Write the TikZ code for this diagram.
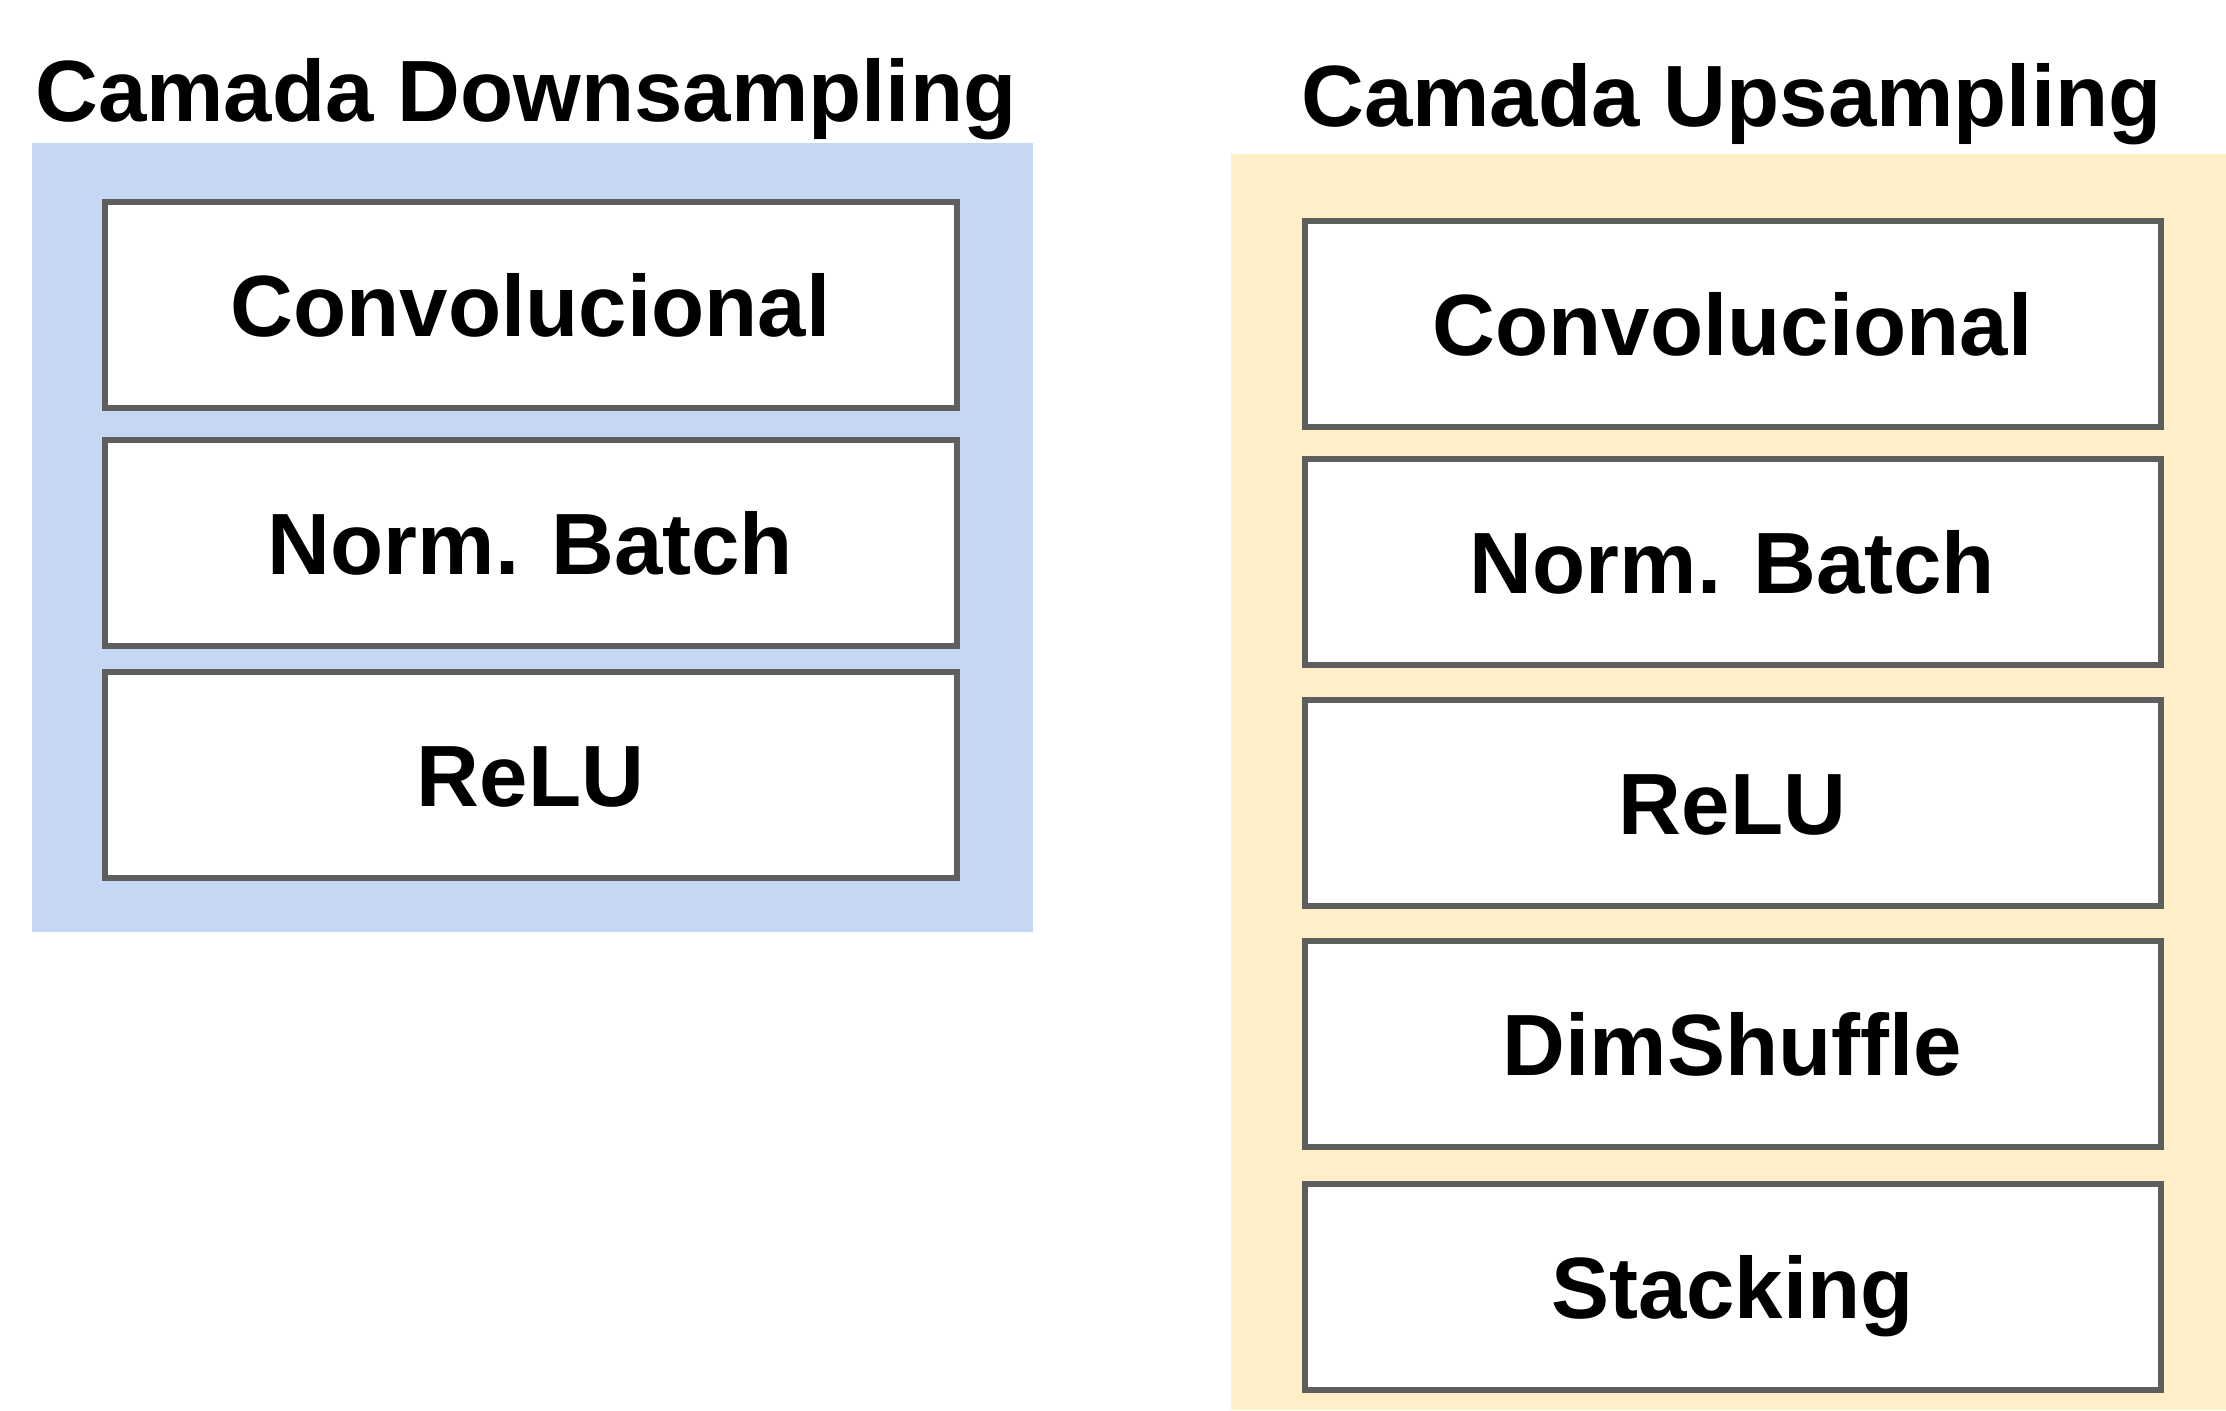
\documentclass[tikz,border=0pt]{standalone}
\usepackage{fontspec}
\setmainfont{Liberation Sans}
\usepackage{tikz}
\definecolor{downblue}{HTML}{C5D7F4}
\definecolor{upyellow}{HTML}{FFEFC8}
\definecolor{boxline}{HTML}{5E5E5E}

\begin{document}
\begin{tikzpicture}[x=1pt,y=-1pt]
\tikzstyle{every node}+=[inner sep=0pt,font=\fontsize{87}{100}\selectfont\bfseries]
\tikzstyle{layer}=[draw=boxline,line width=6,fill=white,text height=62,text depth=0]
\useasboundingbox (0,0) rectangle (2226,1410);
% downsampling
\fill [downblue] (32,143) rectangle (1033,932);
\node [anchor=base west] (tdown) at (35,122) {Camada Downsampling};
\node [layer,minimum width=852,minimum height=206] (dconv) at (530.5,305) {Convolucional};
\node [layer,minimum width=852,minimum height=206] (dnorm) at (530.5,543) {Norm. Batch};
\node [layer,minimum width=852,minimum height=206] (drelu) at (530.5,775) {ReLU};
% upsampling
\fill [upyellow] (1231,154) rectangle (2226,1410);
\node [anchor=base west] (tup) at (1301,127) {Camada Upsampling};
\node [layer,minimum width=856,minimum height=206] (uconv) at (1732.5,324) {Convolucional};
\node [layer,minimum width=856,minimum height=206] (unorm) at (1732.5,562) {Norm. Batch};
\node [layer,minimum width=856,minimum height=206] (urelu) at (1732.5,803) {ReLU};
\node [layer,minimum width=856,minimum height=206] (ushuf) at (1732.5,1044) {DimShuffle};
\node [layer,minimum width=856,minimum height=206] (ustack) at (1732.5,1287) {Stacking};
\end{tikzpicture}
\end{document}
